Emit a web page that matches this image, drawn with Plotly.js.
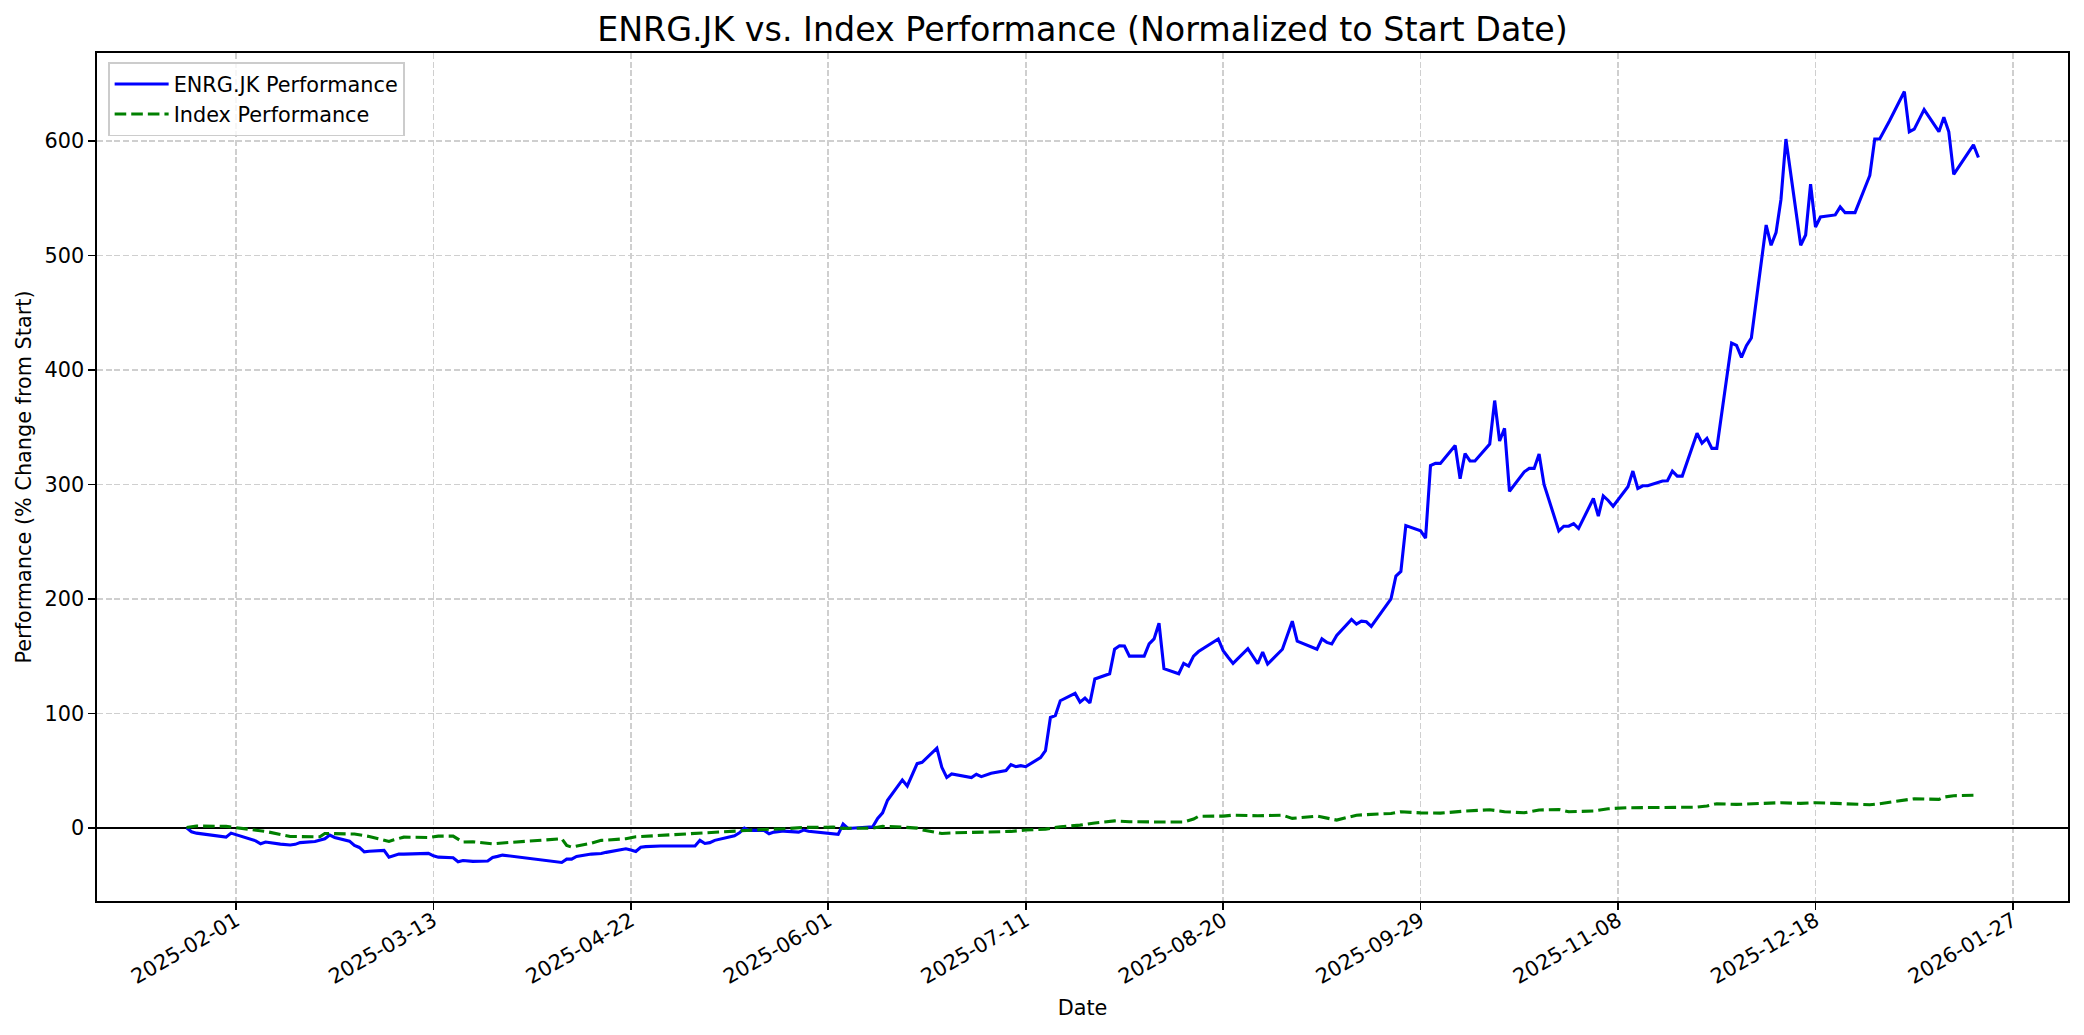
<!DOCTYPE html>
<html>
<head>
<meta charset="utf-8">
<script src="https://cdn.plot.ly/plotly-3.0.1.min.js"></script>
<style>html,body{margin:0;padding:0;background:#fff;}#chart{width:2084px;height:1035px;}</style>
</head>
<body>
<div id="chart"></div>
<script>
// ENRG.JK performance (% change from start)
const stockDates = [
"2025-01-22","2025-01-23","2025-01-24","2025-01-30","2025-01-31","2025-02-03","2025-02-04","2025-02-05","2025-02-06","2025-02-07",
"2025-02-10","2025-02-11","2025-02-12","2025-02-13","2025-02-14","2025-02-17","2025-02-18","2025-02-19","2025-02-20","2025-02-21",
"2025-02-24","2025-02-25","2025-02-26","2025-02-27","2025-02-28","2025-03-03","2025-03-04","2025-03-05","2025-03-06","2025-03-07",
"2025-03-10","2025-03-11","2025-03-12","2025-03-13","2025-03-14","2025-03-17","2025-03-18","2025-03-19","2025-03-20","2025-03-21",
"2025-03-24","2025-03-25","2025-03-26","2025-03-27","2025-04-08","2025-04-09","2025-04-10","2025-04-11","2025-04-14","2025-04-15",
"2025-04-16","2025-04-17","2025-04-21","2025-04-22","2025-04-23","2025-04-24","2025-04-25","2025-04-28","2025-04-29","2025-04-30",
"2025-05-02","2025-05-05","2025-05-06","2025-05-07","2025-05-08","2025-05-09","2025-05-13","2025-05-14","2025-05-15","2025-05-16",
"2025-05-19","2025-05-20","2025-05-21","2025-05-22","2025-05-23","2025-05-26","2025-05-27","2025-05-28","2025-06-02","2025-06-03",
"2025-06-04","2025-06-05","2025-06-10","2025-06-11","2025-06-12","2025-06-13","2025-06-16","2025-06-17","2025-06-19","2025-06-20",
"2025-06-23","2025-06-24","2025-06-25","2025-06-26","2025-06-30","2025-07-01","2025-07-02","2025-07-03","2025-07-04","2025-07-07",
"2025-07-08","2025-07-09","2025-07-10","2025-07-11","2025-07-14","2025-07-15","2025-07-16","2025-07-17","2025-07-18","2025-07-21",
"2025-07-22","2025-07-23","2025-07-24","2025-07-25","2025-07-28","2025-07-29","2025-07-30","2025-07-31","2025-08-01","2025-08-04",
"2025-08-05","2025-08-06","2025-08-07","2025-08-08","2025-08-11","2025-08-12","2025-08-13","2025-08-14","2025-08-15","2025-08-19",
"2025-08-20","2025-08-21","2025-08-22","2025-08-25","2025-08-26","2025-08-27","2025-08-28","2025-08-29","2025-09-01","2025-09-02",
"2025-09-03","2025-09-04","2025-09-08","2025-09-09","2025-09-10","2025-09-11","2025-09-12","2025-09-15","2025-09-16","2025-09-17",
"2025-09-18","2025-09-19","2025-09-22","2025-09-23","2025-09-24","2025-09-25","2025-09-26","2025-09-29","2025-09-30","2025-10-01",
"2025-10-02","2025-10-03","2025-10-06","2025-10-07","2025-10-08","2025-10-09","2025-10-10","2025-10-13","2025-10-14","2025-10-15",
"2025-10-16","2025-10-17","2025-10-20","2025-10-21","2025-10-22","2025-10-23","2025-10-24","2025-10-27","2025-10-28","2025-10-29",
"2025-10-30","2025-10-31","2025-11-03","2025-11-04","2025-11-05","2025-11-06","2025-11-07","2025-11-10","2025-11-11","2025-11-12",
"2025-11-13","2025-11-14","2025-11-17","2025-11-18","2025-11-19","2025-11-20","2025-11-21","2025-11-24","2025-11-25","2025-11-26",
"2025-11-27","2025-11-28","2025-12-01","2025-12-02","2025-12-03","2025-12-04","2025-12-05","2025-12-08","2025-12-09","2025-12-10",
"2025-12-11","2025-12-12","2025-12-15","2025-12-16","2025-12-17","2025-12-18","2025-12-19","2025-12-22","2025-12-23","2025-12-24",
"2025-12-26","2025-12-29","2025-12-30","2025-12-31","2026-01-02","2026-01-05","2026-01-06","2026-01-07","2026-01-08","2026-01-09",
"2026-01-12","2026-01-13","2026-01-14","2026-01-15","2026-01-19","2026-01-20"
];
const stockPerf = [
0,-3.5,-4.7,-8.2,-4.7,-9,-10.5,-11.4,-14,-12.5,
-14.3,-14.8,-15,-14.5,-13,-12,-11,-9.6,-6.4,-8.5,
-11.7,-15.5,-17.2,-21,-20.5,-19.8,-25.7,-24,-23,-23,
-22.8,-22.6,-22.4,-24.5,-25.7,-26.2,-29.7,-28.6,-29,-29.4,
-29,-26,-25,-23.9,-30.3,-27.4,-27.4,-25,-23,-23,
-22.5,-21.5,-18.4,-19.5,-20.7,-17,-16.5,-16,-16,-16,
-16,-16,-11,-13.7,-13,-11,-7,-4.4,-0.3,-2.3,
-2.3,-5.2,-3.8,-3.5,-2.9,-3.8,-2,-3,-5.2,-5.8,
3.2,-0.6,0.9,8.2,13,24,41.8,36.5,56,57.2,
69.5,52.8,44,47,43.8,46.7,44.7,46,47.6,50,
55.2,53.4,54.3,53.4,61.3,67.4,96.4,98,111,117.4,
109.8,113.3,109,130,134.6,156,159,158.8,150,150,
160.6,165,178.7,139,134.6,143.6,141.3,150,154,165,
154.7,149,143.6,156.5,150,143.5,153.4,143,156,168,
180.5,163,156,165,162,160.6,168,182,178,180.5,
180,176,194,200,220,224,264,259.5,253,316.5,
318.4,318.4,334,305,327,320.5,320.5,335.3,373.3,338,
349,294,311,314,314,326.6,300,259.4,263.5,263.5,
265.8,261.5,287.7,272.3,290,286,281,298,311.7,296.5,
298.8,298.8,303,303.2,311.7,307.3,307.3,344.7,336,340.3,
331.5,331.5,423.6,421.5,411,421.2,428,526.7,509,520,
549,601.8,509,518,562.3,525,533.7,535.5,542.5,537.5,
537.5,570,601.8,601.8,617.8,643.3,608.2,610.5,619,627.5,
608.2,620.8,608.2,571,596.8,585.7
];

// Index performance (% change from start)
const indexDates = [
"2025-01-22","2025-01-24","2025-01-30","2025-02-03","2025-02-05","2025-02-07","2025-02-12","2025-02-14","2025-02-18","2025-02-19",
"2025-02-21","2025-02-25","2025-02-28","2025-03-04","2025-03-05","2025-03-07","2025-03-12","2025-03-14","2025-03-17","2025-03-19",
"2025-03-21","2025-03-25","2025-03-27","2025-04-08","2025-04-09","2025-04-10","2025-04-14","2025-04-16","2025-04-17","2025-04-21",
"2025-04-23","2025-04-30","2025-05-07","2025-05-09","2025-05-14","2025-05-19","2025-05-23","2025-05-27","2025-06-02","2025-06-04",
"2025-06-10","2025-06-12","2025-06-16","2025-06-19","2025-06-20","2025-06-24","2025-06-26","2025-07-01","2025-07-04","2025-07-08",
"2025-07-11","2025-07-15","2025-07-18","2025-07-22","2025-07-25","2025-07-29","2025-08-01","2025-08-05","2025-08-08","2025-08-12",
"2025-08-14","2025-08-15","2025-08-20","2025-08-22","2025-08-27","2025-09-01","2025-09-03","2025-09-08","2025-09-12","2025-09-16",
"2025-09-23","2025-09-25","2025-09-29","2025-10-03","2025-10-08","2025-10-13","2025-10-16","2025-10-20","2025-10-23","2025-10-27",
"2025-10-29","2025-11-03","2025-11-06","2025-11-10","2025-11-17","2025-11-24","2025-11-26","2025-11-28","2025-12-02","2025-12-08",
"2025-12-11","2025-12-15","2025-12-18","2025-12-22","2025-12-24","2025-12-29","2025-12-31","2026-01-05","2026-01-07","2026-01-12",
"2026-01-13","2026-01-15","2026-01-20"
];
const indexPerf = [
0.3,1.5,1.2,-1,-1.5,-3.2,-7.6,-7.9,-7.9,-5,
-5,-5.5,-7.6,-12,-10.5,-8.2,-8.5,-7.3,-7.3,-12.5,
-12.2,-14,-13.3,-9.6,-15.5,-16.9,-13.4,-11,-10.8,-9.6,
-7.9,-6.1,-4.7,-3.8,-2.9,-1.5,-0.9,0.3,0.6,-0.5,
-0.3,1.2,0.6,-0.3,-1.8,-5,-4.5,-3.8,-3.6,-3.2,
-2,-1.2,0.9,2.3,4.2,6,5.3,4.8,5,5,
7.6,10,10.2,11,10.5,11,8.2,10.2,6.7,11,
12.5,14,13,12.8,14.6,15.7,14,13.1,15.5,16,
14,14.6,16.6,17.5,17.8,18,19,21,20.4,21,
21.9,21.3,21.9,21.3,21,20.1,21,23.9,25.4,24.8,
26.8,28,28.5
];

const yTicks = [0, 100, 200, 300, 400, 500, 600];

const FONT = "DejaVu Sans, Liberation Sans, sans-serif";
const FS = 20.8;

const traces = [
  {
    x: stockDates, y: stockPerf, type: "scatter", mode: "lines",
    name: "ENRG.JK Performance", legendgroup: "a",
    line: {color: "#0000ff", width: 3.1}
  },
  {
    x: indexDates, y: indexPerf, type: "scatter", mode: "lines",
    name: "Index Performance", legendgroup: "b",
    line: {color: "#008000", width: 3.1, dash: "11.6px,5px"}
  }
];

const layout = {
  width: 2084, height: 1035,
  margin: {l: 97, r: 16, t: 53, b: 134},
  paper_bgcolor: "#ffffff", plot_bgcolor: "#ffffff",
  font: {family: FONT, size: FS, color: "#000000"},
  showlegend: true,
  title: {
    text: "ENRG.JK vs. Index Performance (Normalized to Start Date)",
    font: {family: FONT, size: 33.3, color: "#000000"},
    x: 0.5, xref: "paper", xanchor: "center",
    y: 0.972, yref: "container", yanchor: "middle"
  },
  xaxis: {
    type: "date",
    range: ["2025-01-03 20:24", "2026-02-07 03:36"],
    tick0: "2025-02-01", dtick: 40 * 86400000,
    tickformat: "%Y-%m-%d", tickangle: -30,
    ticks: "outside", ticklen: 7, tickwidth: 1.6, tickcolor: "#000",
    ticklabelstandoff: -9,
    tickfont: {family: FONT, size: FS, color: "#000"},
    showline: true, linecolor: "#000", linewidth: 1.6, mirror: true,
    showgrid: true, gridcolor: "#cfcfcf", gridwidth: 1.6, griddash: "6px,2.7px",
    zeroline: false,
    title: {text: "Date", font: {family: FONT, size: FS, color: "#000"}, standoff: 12}
  },
  yaxis: {
    range: [-64, 677],
    tickmode: "array", tickvals: yTicks, ticktext: yTicks.map(String),
    ticks: "outside", ticklen: 7, tickwidth: 1.6, tickcolor: "#000",
    tickfont: {family: FONT, size: FS, color: "#000"},
    showline: true, linecolor: "#000", linewidth: 1.6, mirror: true,
    showgrid: true, gridcolor: "#cfcfcf", gridwidth: 1.6, griddash: "6px,2.7px",
    zeroline: true, zerolinecolor: "#000", zerolinewidth: 1.6,
    title: {text: "Performance (% Change from Start)", font: {family: FONT, size: FS, color: "#000"}, standoff: 7}
  },
  legend: {
    x: 0.0056, y: 0.989, xanchor: "left", yanchor: "top",
    bgcolor: "rgba(255,255,255,0.8)", bordercolor: "#cccccc", borderwidth: 1.6,
    font: {family: FONT, size: FS, color: "#000"},
    itemwidth: 54,
    tracegroupgap: 0
  },
  hovermode: false
};

Plotly.newPlot("chart", traces, layout, {displayModeBar: false, staticPlot: true});
</script>
</body>
</html>
